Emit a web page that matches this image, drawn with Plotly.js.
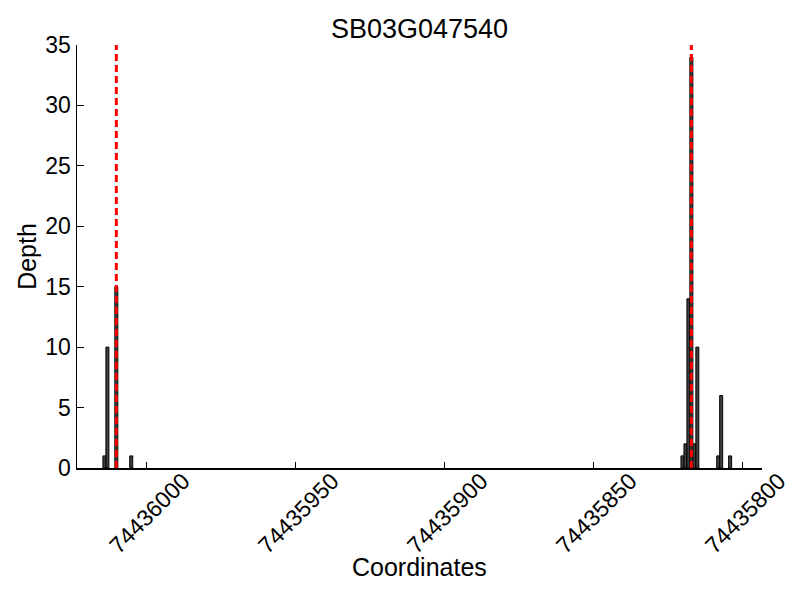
<!DOCTYPE html>
<html>
<head>
<meta charset="utf-8">
<script src="https://cdn.plot.ly/plotly-3.0.1.min.js"></script>
<style>body{margin:0;padding:0;background:#fff;} #chart{width:800px;height:600px;}</style>
</head>
<body>
<div id="chart"></div>
<script>
const chartTitle = "SB03G047540";
const xTitle = "Coordinates";
const yTitle = "Depth";
const coords = [74436014, 74436013, 74436010, 74436005,
                74435820, 74435819, 74435818, 74435817, 74435816, 74435815,
                74435808, 74435807, 74435804];
const depth  = [1, 10, 15, 1,
                1, 2, 14, 34, 2, 10,
                1, 6, 1];
const markerLines = [74436010, 74435817];
const xRange = [74436023.2, 74435793.3];
const yRange = [0, 35];

const FONT = "Liberation Sans, Arial, Helvetica, sans-serif";

const traces = [{
  type: "bar",
  x: coords,
  y: depth,
  width: 1,
  marker: {color: "#404040", line: {color: "#000000", width: 1}},
  hoverinfo: "x+y"
}];
markerLines.forEach(v => {
  traces.push({
    type: "scatter",
    mode: "lines",
    x: [v, v],
    y: yRange,
    line: {color: "#ff0000", width: 3, dash: "7px,4px"},
    hoverinfo: "skip"
  });
});

const layout = {
  width: 800, height: 600,
  paper_bgcolor: "#ffffff", plot_bgcolor: "#ffffff",
  showlegend: false,
  margin: {l: 77, r: 38, t: 45, b: 132},
  font: {family: FONT, color: "#000000", size: 20},
  title: {text: chartTitle, font: {family: FONT, size: 27, color: "#000"},
          x: 0.5, xref: "paper", y: 0.953, yref: "container", yanchor: "middle"},
  bargap: 0,
  xaxis: {
    range: xRange, autorange: false,
    tick0: 74436000, dtick: 50, tickformat: "d",
    ticks: "inside", ticklen: 6, tickcolor: "#000", tickwidth: 1,
    tickangle: -45, ticklabelshift: -37, ticklabelstandoff: -11,
    tickfont: {family: FONT, size: 23, color: "#000"},
    showline: true, linecolor: "#000", linewidth: 1.5,
    showgrid: false, zeroline: false, automargin: false
  },
  yaxis: {
    range: yRange, autorange: false,
    tick0: 0, dtick: 5,
    ticks: "inside", ticklen: 7, tickcolor: "#000", tickwidth: 1,
    tickfont: {family: FONT, size: 23, color: "#000"},
    showline: true, linecolor: "#000", linewidth: 1.5,
    showgrid: false, zeroline: false, automargin: false,
    title: {text: yTitle, font: {family: FONT, size: 25, color: "#000"}, standoff: 1}
  },
  annotations: [{
    text: xTitle, xref: "paper", yref: "paper", x: 0.5, y: -0.234,
    xanchor: "center", yanchor: "middle", showarrow: false,
    font: {family: FONT, size: 25, color: "#000"}
  }]
};

Plotly.newPlot("chart", traces, layout, {displayModeBar: false, staticPlot: true});
</script>
</body>
</html>
